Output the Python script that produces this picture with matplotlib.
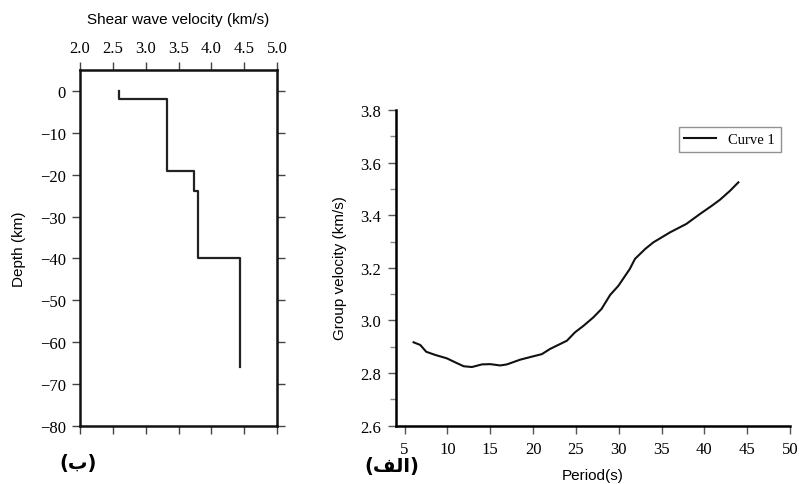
import matplotlib.pyplot as plt
from matplotlib.ticker import MultipleLocator

# Shear wave velocity model (step profile)
vs_profile = [2.60, 2.60, 3.32, 3.32, 3.33, 3.33, 3.74, 3.74, 3.80, 3.80, 4.44, 4.44]
depth_profile = [0, -2, -2, -10, -10, -19, -19, -24, -24, -40, -40, -66]

# Group velocity dispersion curve
period = [6.05, 6.83, 7.53, 8.58, 9.94, 11.1, 11.9, 12.86, 14.03, 15.0, 16.17, 16.95,
          18.5, 20.05, 21.03, 22.0, 23.95, 24.9, 25.9, 27.05, 28.0, 29.0, 29.97, 30.55,
          31.3, 31.9, 33.1, 34.05, 36.0, 37.9, 39.5, 40.87, 41.83, 43.0, 43.97]
group_vel = [2.917, 2.907, 2.881, 2.869, 2.856, 2.838, 2.826, 2.823, 2.833, 2.834, 2.829, 2.833,
             2.851, 2.864, 2.872, 2.892, 2.923, 2.955, 2.980, 3.012, 3.044, 3.097, 3.132, 3.160,
             3.196, 3.234, 3.272, 3.297, 3.335, 3.367, 3.405, 3.436, 3.459, 3.493, 3.525]

vs_ticks = [2.0, 2.5, 3.0, 3.5, 4.0, 4.5, 5.0]
depth_ticks = [0, -10, -20, -30, -40, -50, -60, -70, -80]
period_ticks = [5, 10, 15, 20, 25, 30, 35, 40, 45, 50]
gv_ticks = [2.6, 2.8, 3.0, 3.2, 3.4, 3.6, 3.8]

serif = 'Liberation Serif'
sans = 'Liberation Sans'

fig = plt.figure(figsize=(7.99, 4.85), dpi=100)

# Left panel: velocity profile
ax1 = fig.add_axes([80 / 799, 1 - 427 / 485, 197 / 799, 356 / 485])
ax1.plot(vs_profile, depth_profile, color='#222222', lw=1.6)
ax1.set_xlim(2.0, 5.0)
ax1.set_ylim(-80, 5)
ax1.set_xticks(vs_ticks)
ax1.set_xticklabels([f'{v:.1f}' for v in vs_ticks], fontfamily=serif, fontsize=12)
ax1.set_yticks(depth_ticks)
ax1.set_yticklabels([str(d).replace('-', '\u2212') for d in depth_ticks], fontfamily=serif, fontsize=12)
ax1.tick_params(axis='x', top=True, bottom=True, labeltop=True, labelbottom=False,
                direction='out', length=6, width=1, color='#444444', pad=4)
ax1.tick_params(axis='y', left=True, right=True, direction='out', length=6, width=1,
                color='#444444', pad=4)
for s in ax1.spines.values():
    s.set_linewidth(1.8)
    s.set_color('#111111')
ax1.xaxis.set_label_position('top')
ax1.set_xlabel('Shear wave velocity (km/s)', fontfamily=sans, fontsize=11, labelpad=12)
ax1.set_ylabel('Depth (km)', fontfamily=sans, fontsize=11, labelpad=10)

# Right panel: dispersion curve
ax2 = fig.add_axes([396 / 799, 1 - 426.7 / 485, 394 / 799, 315.7 / 485])
ax2.plot(period, group_vel, color='#111111', lw=1.5, label='Curve 1')
ax2.set_xlim(4, 50)
ax2.set_ylim(2.6, 3.8)
ax2.set_xticks(period_ticks)
ax2.set_xticklabels([str(p) for p in period_ticks], fontfamily=serif, fontsize=12)
ax2.set_yticks(gv_ticks)
ax2.set_yticklabels([f'{v:.1f}' for v in gv_ticks], fontfamily=serif, fontsize=12)
ax2.yaxis.set_minor_locator(MultipleLocator(0.1))
ax2.tick_params(which='major', direction='out', length=6, width=1, color='#555555', pad=5)
ax2.tick_params(axis='y', which='minor', direction='out', length=4, width=1, color='#888888')
ax2.spines['top'].set_visible(False)
ax2.spines['right'].set_visible(False)
ax2.spines['left'].set_linewidth(1.8)
ax2.spines['bottom'].set_linewidth(1.8)
leg = ax2.legend(loc='upper right', bbox_to_anchor=(0.995, 0.97), frameon=True, fancybox=False,
                 prop={'family': serif, 'size': 10.5}, handlelength=2.2, borderpad=0.4)
leg.get_frame().set_edgecolor('#777777')
leg.get_frame().set_linewidth(1.0)

# Axis labels of the right panel placed as figure text
fig.text(593 / 799, 1 - 476 / 485, 'Period(s)', fontfamily=sans, fontsize=11,
         ha='center', va='center')
fig.text(340 / 799, 1 - 268 / 485, 'Group velocity (km/s)', fontfamily=sans, fontsize=11,
         rotation=90, ha='center', va='center')

# Panel letters (Arabic, pre-shaped presentation forms for display order)
fig.text(78 / 799, 1 - 463 / 485, '(\u0628)', fontfamily='DejaVu Sans', fontweight='bold',
         fontsize=14, ha='center', va='center')
fig.text(392 / 799, 1 - 467 / 485, '(\uFED2\uFEDF\uFE8D)', fontfamily='DejaVu Sans',
         fontweight='bold', fontsize=14, ha='center', va='center')

fig.savefig('out.png', dpi=100)
